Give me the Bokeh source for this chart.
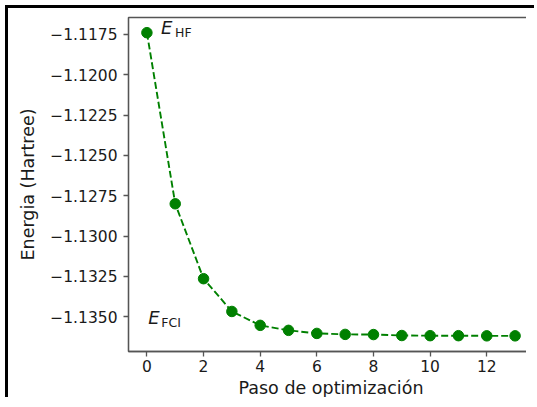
from bokeh.plotting import figure
from bokeh.models import Range1d, FixedTicker, Label
from bokeh.embed import file_html
from bokeh.resources import INLINE

# ---- data ----
steps = list(range(14))
energy = [-1.1174, -1.1280, -1.13264, -1.13467, -1.13553, -1.13584, -1.13603,
          -1.13609, -1.13610, -1.13616, -1.13617, -1.13617, -1.13618, -1.13618]
x_ticks = [0, 2, 4, 6, 8, 10, 12]
y_ticks = [-1.1175, -1.1200, -1.1225, -1.1250, -1.1275, -1.1300, -1.1325, -1.1350]
y_tick_labels = ["\u22121.1175", "\u22121.1200", "\u22121.1225", "\u22121.1250",
                 "\u22121.1275", "\u22121.1300", "\u22121.1325", "\u22121.1350"]

FONT = "DejaVu Sans"
TXT = "#1a1a1a"

p = figure(width=529, height=392, output_backend="svg", toolbar_location=None,
           x_range=Range1d(-0.65, 13.65), y_range=Range1d(-1.13715, -1.11646),
           min_border_left=120, min_border_right=4, min_border_top=9, min_border_bottom=40,
           styles={"border-left": "3px solid black", "border-top": "3px solid black",
                   "margin-left": "5px", "margin-top": "5px", "padding-right": "8px"})

p.line(steps, energy, line_color="green", line_width=1.9, line_dash="7 3")
p.scatter(steps, energy, size=10.5, fill_color="green", line_color="green")

p.xgrid.visible = False
p.ygrid.visible = False
p.outline_line_color = "#555555"
p.outline_line_width = 1.3

for ax in (p.xaxis[0], p.yaxis[0]):
    ax.axis_line_color = "#555555"
    ax.axis_line_width = 1.3
    ax.major_tick_line_color = "#555555"
    ax.major_tick_line_width = 1.3
    ax.major_tick_in = 0
    ax.major_tick_out = 5
    ax.minor_tick_line_color = None
    ax.major_label_text_font = FONT
    ax.major_label_text_font_size = "15.5px"
    ax.major_label_text_color = TXT
    ax.axis_label_text_font = FONT
    ax.axis_label_text_font_size = "17.5px"
    ax.axis_label_text_font_style = "normal"
    ax.axis_label_text_color = TXT

p.xaxis.ticker = FixedTicker(ticks=x_ticks)
p.yaxis.ticker = FixedTicker(ticks=y_ticks)
p.yaxis.major_label_overrides = {t: l for t, l in zip(y_ticks, y_tick_labels)}
p.xaxis.axis_label = "Paso de optimización"
p.yaxis.axis_label = "Energia (Hartree)"
p.xaxis.major_label_standoff = 3
p.xaxis.axis_label_standoff = 3
p.yaxis.major_label_standoff = 6
p.yaxis.axis_label_standoff = 9

# annotations E_HF and E_FCI
p.add_layout(Label(x=0.5, y=-1.11776, text="E", text_font=FONT, text_font_style="italic",
                   text_font_size="18px", text_color=TXT))
p.add_layout(Label(x=0.5, y=-1.11776, text="HF", text_font=FONT,
                   text_font_size="12.5px", text_color=TXT, x_offset=14, y_offset=-2))
p.add_layout(Label(x=0.05, y=-1.13568, text="E", text_font=FONT, text_font_style="italic",
                   text_font_size="18px", text_color=TXT))
p.add_layout(Label(x=0.05, y=-1.13568, text="FCI", text_font=FONT,
                   text_font_size="12.5px", text_color=TXT, x_offset=13, y_offset=-2))

open("out.html", "w").write(file_html(p, INLINE))
